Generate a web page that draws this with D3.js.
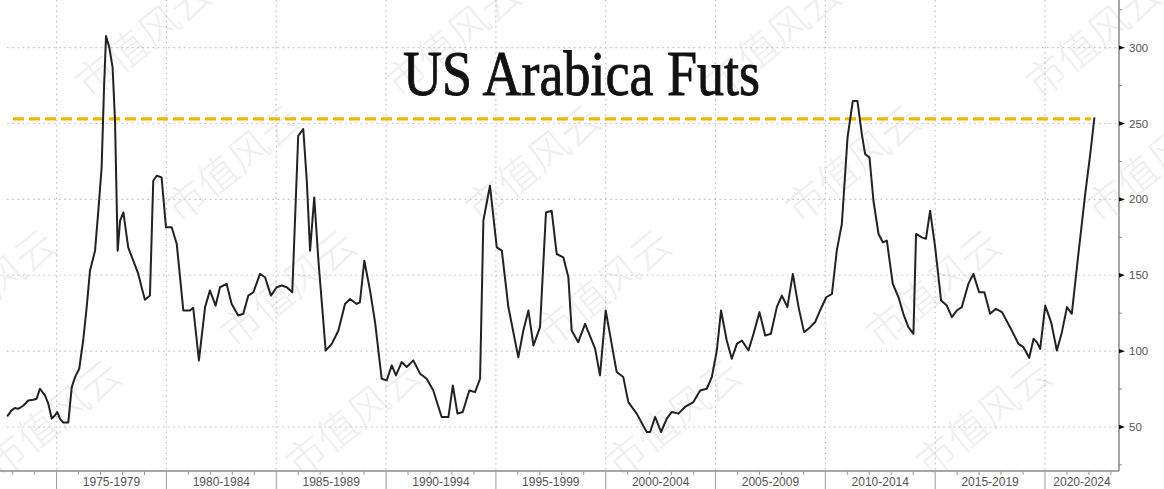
<!DOCTYPE html>
<html>
<head>
<meta charset="utf-8">
<script src="https://cdn.jsdelivr.net/npm/d3@7"></script>
<style>
  html, body { margin: 0; padding: 0; background: #fff; }
  svg { display: block; }
</style>
</head>
<body>
<script>
// arabica-futs.js
const W = 1164, H = 489;

// ── Data ────────────────────────────────────────────────────────────────────
const chartTitle = "US Arabica Futs";
const refLevel = 253;  // the dashed gold line
const yTicks = [50, 100, 150, 200, 250, 300];
const periodStarts = [1975, 1980, 1985, 1990, 1995, 2000, 2005, 2010, 2015, 2020];
const periodLabels = ["1975-1979", "1980-1984", "1985-1989", "1990-1994", "1995-1999",
                      "2000-2004", "2005-2009", "2010-2014", "2015-2019", "2020-2024"];

const years = [
  1972.75, 1972.95, 1973.10, 1973.25, 1973.48, 1973.71, 1973.94, 1974.09, 1974.24, 1974.47,
  1974.62, 1974.78, 1974.93, 1975.03, 1975.15, 1975.30, 1975.53, 1975.69, 1975.84, 1976.03,
  1976.21, 1976.37, 1976.52, 1976.75, 1976.90, 1977.05, 1977.16, 1977.25, 1977.40, 1977.55,
  1977.66, 1977.78, 1977.89, 1978.04, 1978.26, 1978.49, 1978.72, 1978.87, 1979.02, 1979.25,
  1979.40, 1979.56, 1979.78, 1979.98, 1980.24, 1980.47, 1980.77, 1981.07, 1981.22, 1981.48,
  1981.76, 1981.98, 1982.24, 1982.44, 1982.74, 1982.97, 1983.27, 1983.50, 1983.73, 1983.96,
  1984.26, 1984.49, 1984.76, 1985.02, 1985.25, 1985.48, 1985.73, 1986.00, 1986.23, 1986.39,
  1986.54, 1986.73, 1986.92, 1987.25, 1987.53, 1987.83, 1988.13, 1988.36, 1988.66, 1988.81,
  1989.01, 1989.27, 1989.50, 1989.80, 1990.03, 1990.26, 1990.45, 1990.71, 1990.94, 1991.24,
  1991.55, 1991.85, 1992.15, 1992.53, 1992.84, 1993.04, 1993.25, 1993.49, 1993.79, 1994.05,
  1994.28, 1994.43, 1994.73, 1995.04, 1995.27, 1995.57, 1996.02, 1996.25, 1996.48, 1996.71,
  1997.01, 1997.28, 1997.54, 1997.77, 1998.07, 1998.30, 1998.45, 1998.75, 1999.06, 1999.52,
  1999.74, 2000.00, 2000.50, 2000.80, 2001.03, 2001.41, 2001.87, 2002.02, 2002.25, 2002.52,
  2002.78, 2003.01, 2003.31, 2003.61, 2003.99, 2004.30, 2004.60, 2004.83, 2005.06, 2005.25,
  2005.51, 2005.74, 2005.97, 2006.20, 2006.50, 2006.73, 2007.00, 2007.26, 2007.52, 2007.79,
  2008.02, 2008.27, 2008.52, 2008.78, 2009.03, 2009.31, 2009.53, 2009.76, 2010.04, 2010.30,
  2010.52, 2010.75, 2011.01, 2011.25, 2011.46, 2011.66, 2011.81, 2012.01, 2012.19, 2012.42,
  2012.62, 2012.80, 2013.07, 2013.33, 2013.55, 2013.78, 2014.01, 2014.13, 2014.39, 2014.58,
  2014.77, 2015.00, 2015.27, 2015.53, 2015.76, 2015.99, 2016.21, 2016.51, 2016.74, 2017.00,
  2017.24, 2017.50, 2017.76, 2018.04, 2018.41, 2018.79, 2019.02, 2019.28, 2019.48, 2019.63,
  2019.78, 2020.01, 2020.28, 2020.54, 2020.77, 2021.00, 2021.22, 2021.52, 2021.83, 2022.06,
  2022.25
];
const prices = [
  57.0, 61.0, 62.5, 62.0, 64.0, 67.5, 68.0, 68.6, 75.2, 70.8,
  65.4, 55.5, 57.7, 59.9, 55.5, 52.9, 52.9, 76.3, 82.9, 88.4,
  107.0, 129.0, 153.0, 166.2, 192.5, 221.0, 273.7, 307.7, 300.0, 286.8,
  251.8, 166.2, 186.0, 191.4, 168.4, 159.6, 150.9, 142.1, 133.8, 136.6,
  212.3, 215.6, 214.5, 181.6, 181.6, 170.6, 126.8, 126.8, 128.5, 93.9,
  129.0, 140.0, 130.0, 142.1, 144.3, 131.1, 123.5, 124.6, 136.6, 138.8,
  150.9, 148.7, 136.6, 142.1, 143.2, 142.1, 138.8, 241.9, 246.3, 212.3,
  166.2, 201.3, 159.6, 100.4, 104.8, 113.6, 131.1, 134.4, 131.1, 132.2,
  159.6, 140.0, 119.0, 81.8, 80.7, 90.6, 84.0, 92.8, 89.5, 93.9,
  85.1, 81.8, 74.1, 56.6, 56.6, 77.4, 58.8, 59.9, 74.1, 73.0,
  81.8, 186.0, 209.0, 168.4, 166.2, 128.9, 96.0, 113.6, 126.8, 103.7,
  115.8, 191.4, 192.5, 164.0, 161.8, 148.7, 113.6, 105.9, 118.0, 101.5,
  84.0, 126.8, 86.2, 82.9, 66.4, 58.8, 46.7, 46.7, 56.6, 46.7,
  55.5, 59.9, 58.8, 63.2, 66.4, 74.1, 75.2, 82.9, 100.4, 126.8,
  107.0, 95.0, 104.8, 107.0, 100.4, 111.4, 125.7, 110.3, 111.4, 129.0,
  136.6, 129.0, 150.9, 129.0, 112.5, 115.8, 119.0, 126.8, 135.5, 137.7,
  166.2, 183.8, 240.8, 264.9, 264.9, 243.0, 229.8, 227.6, 199.1, 177.2,
  171.7, 172.8, 144.3, 135.5, 124.6, 115.8, 111.4, 177.2, 175.0, 174.0,
  192.5, 168.4, 133.3, 130.0, 122.4, 126.8, 129.0, 144.3, 150.9, 138.8,
  138.8, 124.6, 127.9, 125.7, 115.8, 104.8, 102.6, 95.6, 108.1, 105.9,
  101.5, 130.0, 119.0, 100.4, 112.5, 129.0, 124.6, 164.0, 203.5, 229.8,
  254.0
];

// ── Layout ─────────────────────────────────────────────────────────────────
const plot = { left: 0, right: 1119, top: 0, bottom: 471 };

const x = d3.scaleLinear().domain([1972.423, 2023.369]).range([plot.left, plot.right]);
const y = d3.scaleLinear().domain([21, 331.4]).range([plot.bottom, plot.top]);

const svg = d3.select("body").append("svg")
    .attr("width", W)
    .attr("height", H);

// watermark, very faint (clipped by the frame like in the source)
const wmG = svg.append("g").attr("class", "watermark");
[[90, 100], [400, 100], [720, 100], [1040, 100],
 [180, 225], [480, 225], [800, 225], [1100, 225],
 [-65, 350], [235, 350], [550, 350], [880, 350],
 [0, 480], [300, 480], [620, 480], [930, 480]].forEach(([wx, wy]) => {
    wmG.append("text")
        .attr("transform", `translate(${wx},${wy}) rotate(-39)`)
        .attr("font-family", "'Noto Sans CJK SC', sans-serif")
        .attr("font-size", 40)
        .attr("font-weight", 300)
        .attr("fill", "#efefef")
        .text("市值风云");
});

// gridlines
const gridG = svg.append("g").attr("class", "grid");
gridG.selectAll("line.h")
    .data(yTicks)
    .join("line")
    .attr("class", "h")
    .attr("x1", 7).attr("x2", plot.right)
    .attr("y1", d => y(d)).attr("y2", d => y(d))
    .attr("stroke", "#c4c4c4")
    .attr("stroke-width", 1.2)
    .attr("stroke-dasharray", "1.6,3.6");
gridG.selectAll("line.v")
    .data(periodStarts)
    .join("line")
    .attr("class", "v")
    .attr("x1", d => x(d)).attr("x2", d => x(d))
    .attr("y1", plot.top).attr("y2", plot.bottom)
    .attr("stroke", "#c4c4c4")
    .attr("stroke-width", 1.2)
    .attr("stroke-dasharray", "1.6,3.6");

// reference level
svg.append("line")
    .attr("x1", 13).attr("x2", x(2022.1))
    .attr("y1", y(refLevel)).attr("y2", y(refLevel))
    .attr("stroke", "#f6b400")
    .attr("stroke-width", 3.2)
    .attr("stroke-dasharray", "11,5");

// price line
const series = years.map((yr, i) => ({ year: yr, value: prices[i] }));
svg.append("path")
    .datum(series)
    .attr("fill", "none")
    .attr("stroke", "#222")
    .attr("stroke-width", 2)
    .attr("stroke-linejoin", "round")
    .attr("d", d3.line().x(d => x(d.year)).y(d => y(d.value)));

// title
svg.append("text")
    .attr("x", 403).attr("y", 95)
    .attr("font-family", "'Liberation Serif', 'Times New Roman', serif")
    .attr("font-size", 64)
    .attr("fill", "#111")
    .attr("stroke", "#111")
    .attr("stroke-width", 0.9)
    .attr("textLength", 357)
    .attr("lengthAdjust", "spacingAndGlyphs")
    .text(chartTitle);

// ── Right axis ─────────────────────────────────────────────────────────────
const yAxis = svg.append("g")
    .attr("transform", `translate(${plot.right},0)`);
yAxis.append("line")
    .attr("x1", 0).attr("x2", 0)
    .attr("y1", plot.top).attr("y2", plot.bottom)
    .attr("stroke", "#8a8a8a").attr("stroke-width", 1.5);
// minor ticks every 25
yAxis.selectAll("line.minor")
    .data(d3.range(25, 331, 25).filter(v => v % 50 !== 0))
    .join("line")
    .attr("class", "minor")
    .attr("x1", 0).attr("x2", 3)
    .attr("y1", d => y(d)).attr("y2", d => y(d))
    .attr("stroke", "#888").attr("stroke-width", 1);
yAxis.selectAll("path.major")
    .data(yTicks)
    .join("path")
    .attr("class", "major")
    .attr("d", d => `M0,${y(d) - 2.2}L6,${y(d)}L0,${y(d) + 2.2}Z`)
    .attr("fill", "#111");
yAxis.selectAll("text")
    .data(yTicks)
    .join("text")
    .attr("x", 10).attr("y", d => y(d))
    .attr("dy", "0.35em")
    .attr("font-family", "'Liberation Sans Narrow', 'Liberation Sans', sans-serif")
    .attr("font-size", 11.5)
    .attr("fill", "#555")
    .text(d => d);

// ── Bottom axis ────────────────────────────────────────────────────────────
const xAxis = svg.append("g");
xAxis.append("line")
    .attr("x1", 0).attr("x2", plot.right)
    .attr("y1", plot.bottom).attr("y2", plot.bottom)
    .attr("stroke", "#8a8a8a").attr("stroke-width", 1.5);
// period separators
xAxis.selectAll("line.sep")
    .data(periodStarts)
    .join("line")
    .attr("class", "sep")
    .attr("x1", d => x(d)).attr("x2", d => x(d))
    .attr("y1", plot.bottom).attr("y2", H)
    .attr("stroke", "#999").attr("stroke-width", 1);
// yearly minor ticks
xAxis.selectAll("line.yr")
    .data(d3.range(1973, 2024).filter(v => v % 5 !== 0))
    .join("line")
    .attr("class", "yr")
    .attr("x1", d => x(d)).attr("x2", d => x(d))
    .attr("y1", plot.bottom).attr("y2", plot.bottom + 4)
    .attr("stroke", "#999").attr("stroke-width", 1);
// labels centred in each (visible) period
xAxis.selectAll("text")
    .data(periodStarts)
    .join("text")
    .attr("x", d => (x(d) + Math.min(x(d + 5), plot.right)) / 2)
    .attr("y", 486)
    .attr("text-anchor", "middle")
    .attr("font-family", "'Liberation Sans', Arial, sans-serif")
    .attr("font-size", 12)
    .attr("fill", "#555")
    .text((d, i) => periodLabels[i]);
</script>
</body>
</html>
